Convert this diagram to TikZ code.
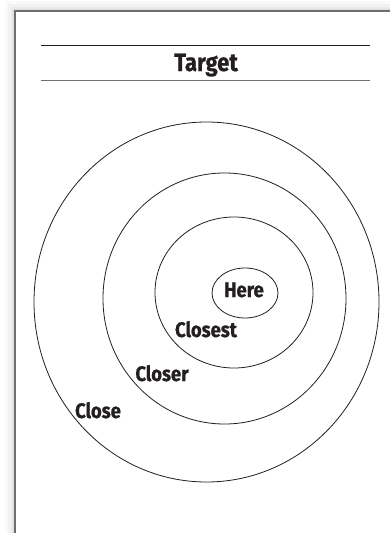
\documentclass[tikz,border=0pt]{standalone}
\usepackage{fontspec}
\setmainfont{Fira Sans}
\newfontfamily\zonefont{Fira Sans}[FakeStretch=0.88, FakeBold=0.8]
\begin{document}
\begin{tikzpicture}[x=1pt, y=-1pt]
    \definecolor{frameColour}{HTML}{6E6E6E}
    \definecolor{inkColour}{HTML}{231F20}
    \tikzset{
        ring/.style={draw=inkColour, line width=0.8pt},
        zone/.style={font=\zonefont\bfseries\fontsize{21}{21}\selectfont, text=inkColour, inner sep=0pt, anchor=base},
        heading/.style={font=\zonefont\bfseries\fontsize{25}{25}\selectfont, text=inkColour, inner sep=0pt, anchor=base}
    }

    \useasboundingbox (0,0) rectangle (390,533);

    % Draw page shadow and frame
    \foreach \s/\o in {10/0.02, 7/0.03, 4/0.04, 2/0.05}
        \fill[black, opacity=\o] (15-\s,11-\s) rectangle (400,545);
    \fill[white] (15,11) rectangle (400,545);
    \draw[frameColour, line width=1.5pt] (400,11) -- (15,11) -- (15,545);

    % Title between rules
    \draw[inkColour, line width=0.8pt] (41,45) -- (370,45);
    \draw[frameColour, line width=0.9pt] (41,80) -- (370,80);
    \node[heading] (title) at (206,71) {Target};

    % Draw rings, outside in
    \draw[ring] (206.5,302) ellipse [x radius=172.5, y radius=180];
    \draw[ring] (224.5,298.5) ellipse [x radius=121.5, y radius=125.5];
    \draw[ring] (234,292.5) ellipse [x radius=79, y radius=75.5];
    \draw[ring] (245,293) ellipse [x radius=33, y radius=25];

    % Label rings
    \node[zone] (here) at (244,297) {Here};
    \node[zone] (closest) at (206,337) {Closest};
    \node[zone] (closer) at (162,381) {Closer};
    \node[zone] (close) at (98,418) {Close};

\end{tikzpicture}
\end{document}
